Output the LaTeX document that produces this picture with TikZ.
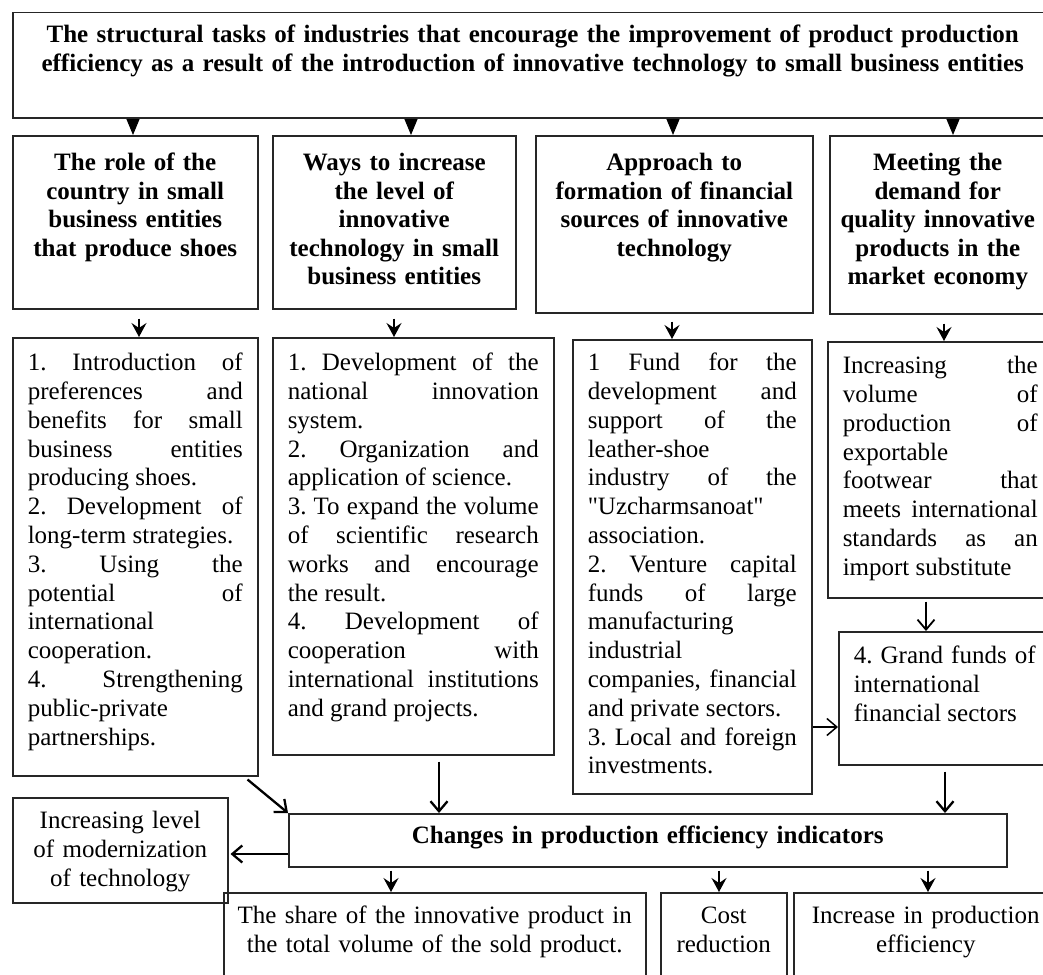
\documentclass[tikz,border=0pt]{standalone}
\usepackage{fontspec}
\setmainfont{Liberation Serif}
\usetikzlibrary{arrows.meta}

% one justified line of a box
\newcommand\jl[1]{{\spaceskip=0pt\xspaceskip=0pt\makebox[\hsize][s]{#1}}}

\begin{document}
\frenchspacing
\begin{tikzpicture}[x=1pt,y=-1pt,
        every node/.style={font=\fontsize{25}{28.8}\selectfont},
        box/.style={draw=black!85, line width=1.5pt, inner ysep=0pt, anchor=north west},
        head/.style={box, inner xsep=5pt, align=center, font=\fontsize{25}{28.5}\selectfont\bfseries},
        body/.style={box, inner xsep=15pt, align=flush left},
        plain/.style={box, inner xsep=5pt, align=center},
        tri/.style={line width=1pt, -{Triangle[width=13pt,length=16pt]}},
        notch/.style={line width=1.5pt, -{Stealth[width=15pt,length=14pt,inset=5pt]}},
        barb/.style={line width=2.3pt, -{Straight Barb[width=17pt,length=10pt]}}]
    \useasboundingbox (0,0) rectangle (1043,974);
    \clip (0,0) rectangle (1043,974);

    % title
    \node[head, inner xsep=20pt, text width=1000pt, text height=30pt, text depth=75pt] (top) at (12,12)
        {The structural tasks of industries that encourage the improvement of product production\\
         efficiency as a result of the introduction of innovative technology to small business entities};

    % second row
    \node[head, text width=235pt, text height=35pt, text depth=138pt] (B1) at (12,135)
        {The role of the\\country in small\\business entities\\that produce shoes};
    \node[head, text width=233pt, text height=35pt, text depth=138pt] (B2) at (272,135)
        {Ways to increase\\the level of\\innovative\\technology in small\\business entities};
    \node[head, text width=267pt, text height=35pt, text depth=142pt] (B3) at (535,135)
        {Approach to\\formation of financial\\sources of innovative\\technology};
    \node[head, text width=206pt, text height=35pt, text depth=143pt] (B4) at (829,135)
        {Meeting the\\demand for\\quality innovative\\products in the\\market economy};

    % third row
    \node[body, text width=215pt, text height=33pt, text depth=405pt] (C1) at (12,337)
        {\jl{1. Introduction of}\\\jl{preferences and}\\\jl{benefits for small}\\\jl{business entities}\\
         producing shoes.\\\jl{2. Development of}\\long-term strategies.\\\jl{3. Using the}\\
         \jl{potential of}\\international\\cooperation.\\\jl{4. Strengthening}\\public-private\\partnerships.};
    \node[body, text width=251pt, text height=33pt, text depth=384pt] (C2) at (272,337)
        {\jl{1. Development of the}\\\jl{national innovation}\\system.\\\jl{2. Organization and}\\
         application of science.\\\jl{3. To expand the volume}\\\jl{of scientific research}\\
         \jl{works and encourage}\\the result.\\\jl{4. Development of}\\\jl{cooperation with}\\
         \jl{international institutions}\\and grand projects.};
    \node[body, text width=209pt, text height=31pt, text depth=423pt] (C3) at (572,339)
        {\jl{1 Fund for the}\\\jl{development and}\\\jl{support of the}\\leather-shoe\\\jl{industry of the}\\
         \textquotedbl Uzcharmsanoat\textquotedbl\\association.\\\jl{2. Venture capital}\\\jl{funds of large}\\manufacturing\\
         industrial\\\jl{companies, financial}\\and private sectors.\\\jl{3. Local and foreign}\\investments.};
    \node[body, text width=195pt, text height=32pt, text depth=224pt] (C4) at (827,341)
        {\jl{Increasing the}\\\jl{volume of}\\\jl{production of}\\exportable\\\jl{footwear that}\\
         \jl{meets international}\\\jl{standards as an}\\import substitute};
    \node[body, text width=182pt, text height=32pt, text depth=101pt] (D4) at (838,631)
        {\jl{4. Grand funds of}\\international\\financial sectors};

    % result
    \node[head, inner xsep=10pt, text width=698pt, text height=30pt, text depth=23pt] (E) at (288,813)
        {Changes in production efficiency indicators};
    \node[plain, text width=205pt, text height=31pt, text depth=74pt] (F) at (12,797)
        {Increasing level\\of modernization\\of technology};
    \node[plain, text width=412pt, text height=31pt, text depth=67pt] (G1) at (223,892)
        {The share of the innovative product in\\the total volume of the sold product.};
    \node[plain, text width=116pt, text height=31pt, text depth=67pt] (G2) at (660,892)
        {Cost\\reduction};
    \node[plain, text width=254pt, text height=31pt, text depth=67pt] (G3) at (793,892)
        {Increase in production\\efficiency};

    % arrows from the title
    \draw[tri] (133,0 |- top.south) -- (133,0 |- B1.north);
    \draw[tri] (411,0 |- top.south) -- (411,0 |- B2.north);
    \draw[tri] (673,0 |- top.south) -- (673,0 |- B3.north);
    \draw[tri] (953,0 |- top.south) -- (953,0 |- B4.north);

    % second row to third row
    \draw[notch, shorten <=9pt] (139,0 |- B1.south) -- (139,0 |- C1.north);
    \draw[notch, shorten <=9pt] (394,0 |- B2.south) -- (394,0 |- C2.north);
    \draw[notch, shorten <=8pt] (672,0 |- B3.south) -- (672,0 |- C3.north);
    \draw[notch, shorten <=9pt] (944,0 |- B4.south) -- (944,0 |- C4.north);

    \draw[barb, line width=1.8pt, shorten <=3pt] (926,0 |- C4.south) -- (926,0 |- D4.north);
    \draw[barb, line width=1.5pt] (C3.east |- 0,727) -- (D4.west |- 0,727);

    % into the result box
    \draw[barb, shorten <=6pt] (439,0 |- C2.south) -- (439,0 |- E.north);
    \draw[barb, shorten <=6pt] (945,0 |- D4.south) -- (945,0 |- E.north);
    \draw[barb] ([xshift=-11pt,yshift=-3pt]C1.south east) -- (E.north west);
    \draw[barb, shorten >=2pt] (E.west |- 0,854) -- (F.east |- 0,854);

    % results
    \draw[notch, shorten <=3pt] (391,0 |- E.south) -- (391,0 |- G1.north);
    \draw[notch, shorten <=3pt] (719,0 |- E.south) -- (719,0 |- G2.north);
    \draw[notch, shorten <=3pt] (928,0 |- E.south) -- (928,0 |- G3.north);
\end{tikzpicture}
\end{document}
